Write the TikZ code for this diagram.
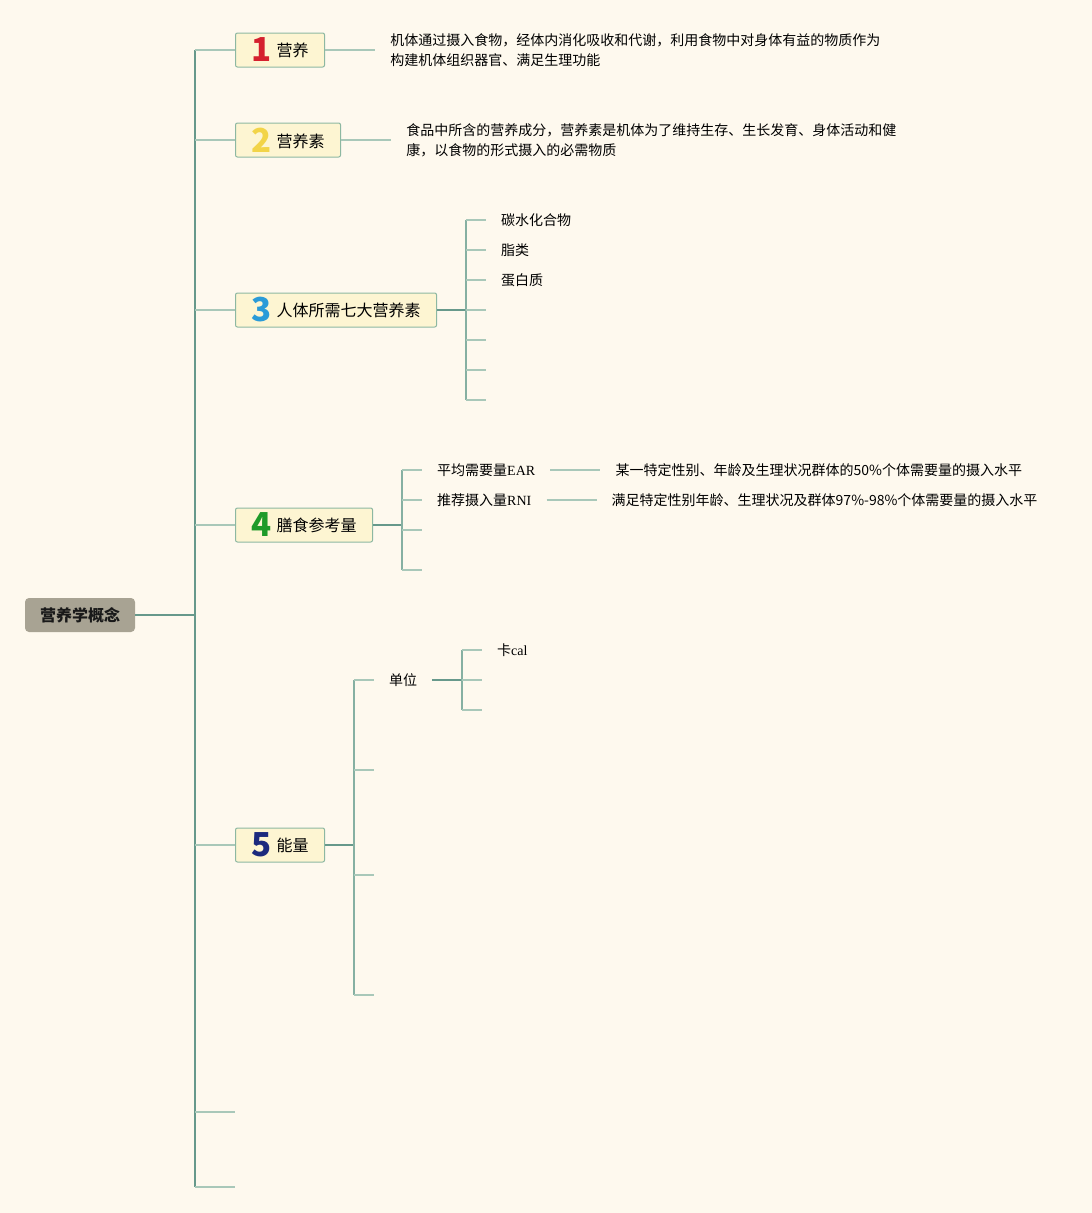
\documentclass[tikz,border=0pt]{standalone}
\usepackage{fontspec}
\setmainfont{Noto Sans CJK SC}
\newfontfamily\latinserif{Liberation Serif}
\usetikzlibrary{positioning}

\definecolor{bgcol}{HTML}{FEF9EE}
\definecolor{boxfill}{HTML}{FDF5D2}
\definecolor{boxline}{HTML}{8DB8A2}
\definecolor{rootfill}{HTML}{A8A393}
\definecolor{stemcol}{HTML}{67998B}
\definecolor{bracecol}{HTML}{86B0A2}
\definecolor{twigcol}{HTML}{A9C8B9}
\definecolor{numA}{HTML}{D5202E}
\definecolor{numB}{HTML}{F2D448}
\definecolor{numC}{HTML}{2A9BD8}
\definecolor{numD}{HTML}{1E9A28}
\definecolor{numE}{HTML}{1C2A7E}

\newcommand{\topicnum}[3]{{\fontsize{33}{33}\selectfont\bfseries\color{#1}#2}\hspace{5pt}\raisebox{5pt}{#3}}
\newcommand{\lat}[1]{{\latinserif #1}}

\begin{document}
\begin{tikzpicture}[x = 1pt, y = -1pt]
\tikzstyle{rootStyle} = [fill = rootfill, rounded corners = 4pt, minimum width = 110pt, minimum height = 34pt, text = black!90, font = \fontsize{16}{18}\selectfont\bfseries]
\tikzstyle{topicStyle} = [draw = boxline, fill = boxfill, line width = 1pt, rounded corners = 2pt, inner xsep = 16pt, inner ysep = 2pt, minimum height = 34pt, anchor = west, font = \fontsize{16}{18}\selectfont]
\tikzstyle{leafStyle} = [inner xsep = 15pt, inner ysep = 0pt, anchor = west, align = left, font = \fontsize{14}{20}\selectfont]
\tikzstyle{stemStyle} = [draw = stemcol, line width = 2pt]
\tikzstyle{braceStyle} = [draw = bracecol, line width = 1.6pt]
\tikzstyle{twigStyle} = [draw = twigcol, line width = 1.5pt]

\fill [bgcol] (0,0) rectangle (1092,1213);
\useasboundingbox (0,0) rectangle (1092,1213);

% root and main trunk
\node [rootStyle] (root) at (80,615) {营养学概念};
\coordinate (trunk) at (195,615);
\draw [stemStyle] (root.east) -- (trunk);
\draw [stemStyle] (195,50) -- (195,1187);

% topics
\node [topicStyle] (n1) at (235,50)  {\topicnum{numA}{1}{营养}};
\node [topicStyle] (n2) at (235,140) {\topicnum{numB}{2}{营养素}};
\node [topicStyle] (n3) at (235,310) {\topicnum{numC}{3}{人体所需七大营养素}};
\node [topicStyle] (n4) at (235,525) {\topicnum{numD}{4}{膳食参考量}};
\node [topicStyle] (n5) at (235,845) {\topicnum{numE}{5}{能量}};
\coordinate (n6) at (235,1112);
\coordinate (n7) at (235,1187);
\foreach \n/\y in {n1/50, n2/140, n3/310, n4/525, n5/845, n6/1112, n7/1187}
  \draw [twigStyle] (195,\y) -- (\n);

% 1 and 2: definitions
\node [leafStyle, right = 50pt of n1] (d1) {机体通过摄入食物，经体内消化吸收和代谢，利用食物中对身体有益的物质作为\\构建机体组织器官、满足生理功能};
\node [leafStyle, right = 50pt of n2] (d2) {食品中所含的营养成分，营养素是机体为了维持生存、生长发育、身体活动和健\\康，以食物的形式摄入的必需物质};
\path [twigStyle]
(n1) edge (d1)
(n2) edge (d2);

% 3: seven nutrients
\coordinate (b3) at (466,310);
\draw [stemStyle] (n3.east) -- (b3);
\draw [braceStyle] (466,220) -- (466,400);
\node [leafStyle] (c1) at (486,220) {碳水化合物};
\node [leafStyle] (c2) at (486,250) {脂类};
\node [leafStyle] (c3) at (486,280) {蛋白质};
\foreach \y in {310, 340, 370, 400}
  \coordinate (c\y) at (486,\y);
\foreach \n/\y in {c1/220, c2/250, c3/280, c310/310, c340/340, c370/370, c400/400}
  \draw [twigStyle] (466,\y) -- (\n);

% 4: reference intakes
\coordinate (b4) at (402,525);
\draw [stemStyle] (n4.east) -- (b4);
\draw [braceStyle] (402,470) -- (402,570);
\node [leafStyle] (ear) at (422,470) {平均需要量\lat{EAR}};
\node [leafStyle] (rni) at (422,500) {推荐摄入量\lat{RNI}};
\coordinate (r530) at (422,530);
\coordinate (r570) at (422,570);
\foreach \n/\y in {ear/470, rni/500, r530/530, r570/570}
  \draw [twigStyle] (402,\y) -- (\n);
\node [leafStyle, right = 50pt of ear] (earD) {某一特定性别、年龄及生理状况群体的50\%个体需要量的摄入水平};
\node [leafStyle, right = 50pt of rni] (rniD) {满足特定性别年龄、生理状况及群体97\%-98\%个体需要量的摄入水平};
\path [twigStyle]
(ear) edge (earD)
(rni) edge (rniD);

% 5: energy
\coordinate (b5) at (354,845);
\draw [stemStyle] (n5.east) -- (b5);
\draw [braceStyle] (354,680) -- (354,995);
\node [leafStyle] (unit) at (374,680) {单位};
\foreach \y in {770, 875, 995}
  \coordinate (e\y) at (374,\y);
\foreach \n/\y in {unit/680, e770/770, e875/875, e995/995}
  \draw [twigStyle] (354,\y) -- (\n);
\coordinate (bu) at (462,680);
\draw [stemStyle] (unit.east) -- (bu);
\draw [braceStyle] (462,650) -- (462,710);
\node [leafStyle] (kcal) at (482,650) {卡\lat{cal}};
\coordinate (u680) at (482,680);
\coordinate (u710) at (482,710);
\foreach \n/\y in {kcal/650, u680/680, u710/710}
  \draw [twigStyle] (462,\y) -- (\n);
\end{tikzpicture}
\end{document}
